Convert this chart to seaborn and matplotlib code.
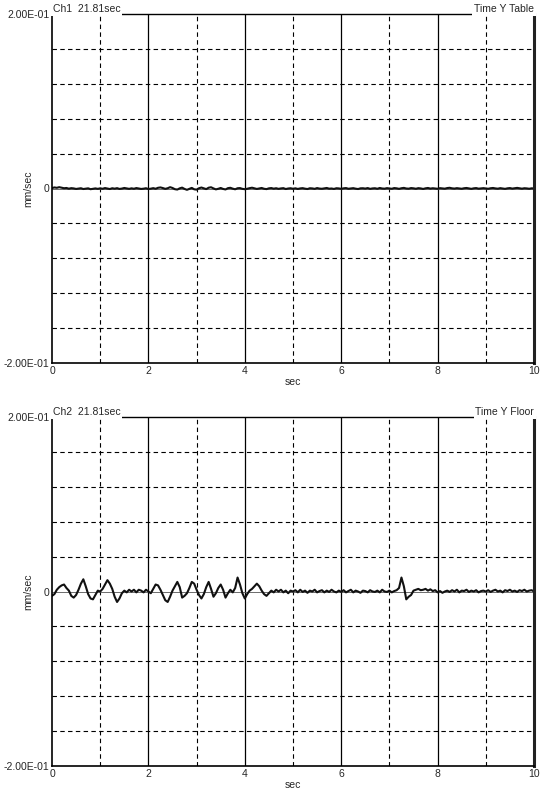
import numpy as np
import seaborn as sns
import matplotlib.pyplot as plt

# sample times (s), 0.05 s step
t = np.linspace(0, 10, 201)

# channel values in units of 1e-3 mm/sec
ch1_milli = [
    0.5, 1.2, 0.8, 1.5, 0.9, 0.3, 0.6, -0.2, 0.4, 0.1, -0.5, -0.1, 0.3, -0.6, -0.2, 0.2, -0.8, -0.3, 0.1, -0.4,
    0.2, -0.3, 0.5, 0.0, -0.6, 0.3, -0.2, 0.4, -0.5, -0.1, 0.6, 0.1, -0.4, 0.2, -0.3, 0.5, 0.0, -0.5, -0.2, 0.3,
    -0.6, -0.2, 0.4, -0.3, 0.8, 1.2, 0.5, -0.4, 0.3, 1.5, 0.6, -0.8, -1.2, 0.2, 1.0, -0.5, -1.5, -0.4, 0.7, -0.9,
    -1.3, 0.3, 1.1, 0.2, -0.7, 0.9, 1.4, 0.1, -1.0, -0.3, 0.6, -0.5, -1.1, 0.4, 0.8, -0.2, -0.9, 0.3, 0.5, -0.4,
    -0.8, -0.3, 0.4, 0.9, 0.2, -0.5, 0.1, 0.6, -0.3, -0.7, 0.2, 0.5, -0.2, 0.3, -0.4, 0.1, 0.4, -0.6, 0.0, 0.3,
    -0.3, 0.2, -0.5, 0.1, 0.4, -0.2, -0.6, 0.3, 0.1, -0.4, 0.5, -0.1, -0.3, 0.2, 0.6, -0.2, 0.0, -0.5, 0.3, 0.1,
    -0.4, 0.2, 0.5, -0.3, 0.0, 0.4, -0.2, -0.6, 0.2, 0.3, -0.1, 0.5, -0.4, 0.1, 0.3, -0.3, 0.6, 0.0, -0.2, 0.4,
    0.1, -0.3, 0.5, 0.2, -0.4, 0.3, 0.7, 0.0, -0.2, 0.5, 0.2, -0.3, 0.4, 0.1, -0.5, 0.2, 0.6, -0.1, 0.3, 0.0,
    -0.3, 0.4, 0.1, -0.2, 0.5, 0.8, 0.2, -0.1, 0.4, 0.0, -0.3, 0.3, 0.6, 0.1, -0.4, 0.2, 0.5, -0.2, 0.1, 0.4,
    0.0, -0.3, 0.3, 0.6, 0.1, -0.2, 0.4, 0.0, -0.4, 0.2, 0.5, -0.1, 0.3, 0.7, 0.2, -0.2, 0.3, 0.1, -0.3, 0.2,
    0.1,
]
ch2_milli = [
    -5, -3, 2, 5, 7, 8, 4, 1, -5, -7, -4, 2, 9, 14, 6, -3, -8, -9, -4, 1,
    0, 3, 8, 13, 9, 3, -6, -12, -8, -2, 1, -1, 2, 0, 2, -1, 2, 1, -1, 2,
    0, -2, 3, 8, 7, 2, -4, -10, -12, -6, 1, 6, 11, 5, -7, -5, -2, 4, 11, 9,
    2, -4, -8, -3, 5, 11, 3, -6, -2, 4, 8, 2, -7, -2, 2, -1, 4, 16, 8, -2,
    -8, -3, 1, 3, 6, 9, 6, 1, -3, -5, -2, 1, -1, 2, 0, 2, -1, 1, -2, 1,
    0, 1.5, -1, 2, -0.5, 1, -1.5, 1, 0, 2, -1, 0.5, 1.5, -1, 1, -0.5, 2, 0, -1, 1,
    -0.5, 1.5, -1, 0.5, 2, -1, 1, 0, -1.5, 1, 0.5, -1, 1.5, 0, -0.5, 1, -1, 2, 0, -0.5,
    1, -1, 0.5, 1.5, 4, 16, 6, -9, -6, -4, 1, 2, 3, 1.5, 2, 3, 1, 2.5, 0.5, 1.5,
    -1, 0.5, -1.5, 0, 1, -0.5, 1.5, 0, 2, -1, 1, 0.5, 2, -0.5, 1, 0, 1.5, -1, 0.5, 1,
    0, 1.5, -0.5, 1, 2, 0, 1, -1, 1.5, 0.5, 2, 0, 1, -0.5, 1.5, 0.5, 2, 0, 1, 1.5,
    0,
]

channels = ["Ch1  21.81sec", "Ch2  21.81sec"]
titles = ["Time Y Table", "Time Y Floor"]
x_ticks = [0, 2, 4, 6, 8, 10]
y_ticks = [-0.2, 0, 0.2]
y_tick_labels = ["-2.00E-01", "0", "2.00E-01"]

sns.set_theme(style="white")
plt.rcParams['font.family'] = ['Liberation Sans', 'DejaVu Sans']

fig = plt.figure(figsize=(5.49, 7.93), dpi=100)
ax1 = fig.add_axes([52/549, 1 - 363/793, 482/549, 349/793])
ax2 = fig.add_axes([52/549, 1 - 766/793, 482/549, 349/793])

for ax, vals, ch, ttl in zip([ax1, ax2], [ch1_milli, ch2_milli], channels, titles):
    y = np.array(vals) / 1000.0

    # grid: solid verticals at even seconds, dashed at odd, dashed horizontals
    for xv in range(1, 10):
        if xv % 2 == 0:
            ax.axvline(xv, color="black", lw=0.9, zorder=1)
        else:
            ax.axvline(xv, color="black", lw=0.8, ls=(0, (4, 3)), zorder=1)
    for yv in [-0.16, -0.12, -0.08, -0.04, 0.04, 0.08, 0.12, 0.16]:
        ax.axhline(yv, color="black", lw=0.8, ls=(0, (4, 3)), zorder=1)
    ax.axhline(0, color="#555555", lw=0.6, zorder=1)

    sns.lineplot(x=t, y=y, ax=ax, color="#111111", lw=1.5, zorder=2)

    ax.set_xlim(0, 10)
    ax.set_ylim(-0.2, 0.2)
    ax.set_xticks(x_ticks)
    ax.set_xticklabels([str(v) for v in x_ticks], fontsize=7.5)
    ax.set_yticks(y_ticks)
    ax.set_yticklabels(y_tick_labels, fontsize=7.5)
    ax.tick_params(length=0, pad=2)
    ax.set_xlabel("sec", fontsize=7.5, labelpad=1)
    ax.set_ylabel("mm/sec", fontsize=7.5)
    ax.yaxis.set_label_coords(-0.038, 0.5)

    for side in ["left", "bottom", "top"]:
        ax.spines[side].set_color("black")
        ax.spines[side].set_linewidth(1.2)
    ax.spines["top"].set_linewidth(1.0)
    ax.spines["right"].set_color("#222222")
    ax.spines["right"].set_linewidth(2.2)

    ax.text(0.002, 1.0, ch, transform=ax.transAxes, fontsize=7.5, ha="left", va="bottom",
            bbox=dict(facecolor="white", edgecolor="none", pad=1.2), zorder=5)
    ax.text(1.0, 1.0, ttl, transform=ax.transAxes, fontsize=7.5, ha="right", va="bottom",
            bbox=dict(facecolor="white", edgecolor="none", pad=1.2), zorder=5)

fig.savefig("out.png", dpi=100)
